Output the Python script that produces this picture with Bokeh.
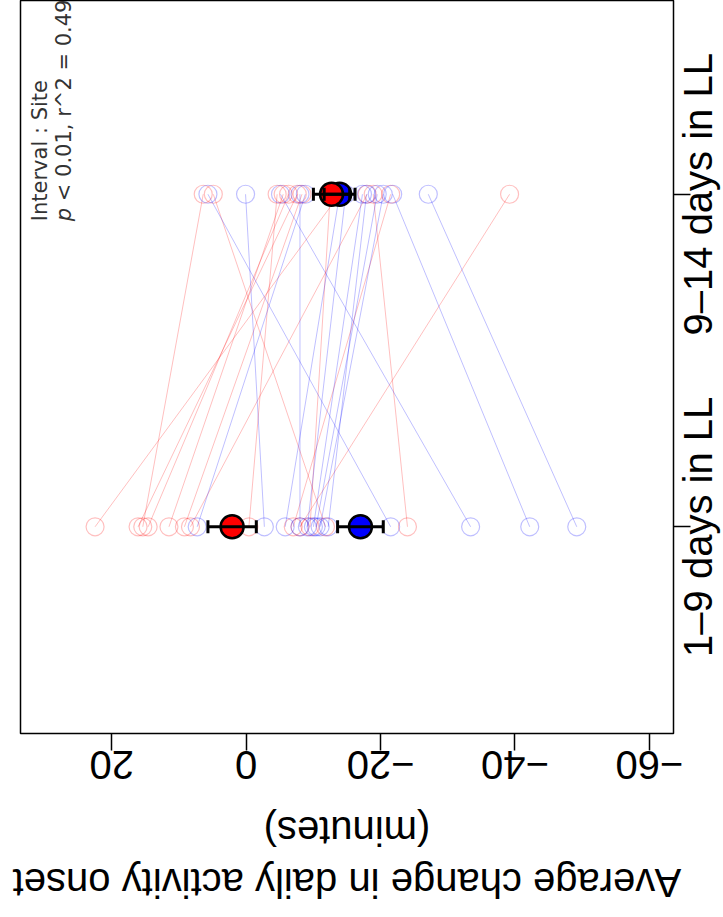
from bokeh.plotting import figure
from bokeh.models import Range1d, FixedTicker, ColumnDataSource, Whisker, TeeHead, Label, InlineStyleSheet
from bokeh.embed import file_html
from bokeh.resources import INLINE

# ---------------- data ----------------
categories = ["1–9 days in LL", "9–14 days in LL"]
cat_pos = [1, 2]

red_t1 = [22.5, 16.1, 15.4, 14.6, 11.5, 9.2, 8.3, -0.4, -7.0, -8.0, -9.5, -11.8, -24.0]
red_t2 = [-13.9, -7.6, 6.4, -6.3, -5.5, -8.3, -18.0, -4.6, -21.5, -39.2, -12.5, 4.9, -18.9]
blue_t1 = [7.3, -2.7, -5.8, -8.0, -9.1, -10.0, -10.4, -11.0, -12.2, -21.5, -33.4, -42.2, -49.2]
blue_t2 = [-8.8, 0.1, -13.9, -8.0, -14.8, -17.3, -19.5, -20.4, -17.9, 5.7, -5.1, -21.8, -27.1]

red_mean = [2.1, -12.7]
red_se = [3.6, 2.7]
blue_mean = [-17.0, -13.9]
blue_se = [3.4, 2.3]

value_ticks = [20, 0, -20, -40, -60]
value_tick_labels = ["20", "0", "−20", "−40", "−60"]

axis_title = "Average change in daily activity onset\n(minutes)"
note_line1 = "Interval : Site"
note_p = "p"
note_rest = "\u00a0< 0.01, r^2 = 0.49"

# The reference is an R chart turned a quarter turn counter-clockwise;
# the chart is built upright on a square canvas and the canvas is turned the same way.
SIDE = 909

p = figure(width=SIDE, height=SIDE, output_backend="svg", toolbar_location=None,
           title=None, x_range=Range1d(0.3784, 2.5826), y_range=Range1d(-63.6, 33.6),
           min_border_left=174, min_border_right=1, min_border_top=20,
           min_border_bottom=SIDE - 673)
p.stylesheets = [InlineStyleSheet(css=(
    ".bk-Canvas { transform: translateY(%dpx) rotate(-90deg); transform-origin: 0 0; }" % SIDE))]

p.xgrid.visible = False
p.ygrid.visible = False
p.outline_line_color = "black"
p.outline_line_width = 1.5
p.outline_line_alpha = 1.0
p.background_fill_color = "white"
p.border_fill_color = "white"

xa = p.xaxis[0]
ya = p.yaxis[0]
for ax in (xa, ya):
    ax.major_tick_out = 17
    ax.major_tick_in = 0
    ax.minor_tick_out = 0
    ax.minor_tick_in = 0
    ax.major_tick_line_width = 1.5
    ax.major_tick_line_color = "black"
    ax.axis_line_color = None
    ax.major_label_text_font = "Liberation Sans"
    ax.major_label_text_font_size = "40px"
    ax.major_label_text_color = "black"

# category axis (bottom of the upright chart)
xa.ticker = FixedTicker(ticks=cat_pos)
xa.major_label_overrides = {c: s for c, s in zip(cat_pos, categories)}
xa.major_label_standoff = -15

# value axis (left of the upright chart), labels parallel to the axis
ya.ticker = FixedTicker(ticks=value_ticks)
ya.major_label_overrides = {t: s for t, s in zip(value_ticks, value_tick_labels)}
ya.major_label_orientation = "vertical"
ya.major_label_standoff = 0
ya.axis_label = axis_title
ya.axis_label_text_font = "Liberation Sans"
ya.axis_label_text_font_size = "40px"
ya.axis_label_text_font_style = "normal"
ya.axis_label_text_color = "black"
ya.axis_label_standoff = 27

# individual animals: lines and open points
def individuals(t1, t2, color):
    ys = [[a, b] for a, b in zip(t1, t2)]
    xs = [list(cat_pos) for _ in t1]
    p.multi_line(xs=xs, ys=ys, line_color=color, line_alpha=0.25, line_width=1)
    p.scatter(x=[cat_pos[0]] * len(t1) + [cat_pos[1]] * len(t2), y=list(t1) + list(t2),
              size=18, fill_color=None, line_color=color, line_alpha=0.25, line_width=1.2)

individuals(red_t1, red_t2, "red")
individuals(blue_t1, blue_t2, "blue")

# error bars
for mean, se in ((blue_mean, blue_se), (red_mean, red_se)):
    src = ColumnDataSource(dict(base=cat_pos,
                                lower=[m - s for m, s in zip(mean, se)],
                                upper=[m + s for m, s in zip(mean, se)]))
    w = Whisker(base="base", lower="lower", upper="upper", dimension="height", source=src,
                line_width=3, line_color="black",
                upper_head=TeeHead(size=13, line_width=3, line_color="black"),
                lower_head=TeeHead(size=13, line_width=3, line_color="black"))
    w.level = "overlay"
    p.add_layout(w)

p.scatter(x=cat_pos, y=blue_mean, size=23, fill_color="blue", line_color="black", line_width=2.5, level="overlay")
p.scatter(x=cat_pos, y=red_mean, size=23, fill_color="red", line_color="black", line_width=2.5, level="overlay")

# model annotation (top right of the upright chart)
p.add_layout(Label(x=1.919, y=30.7, text=note_line1, text_align="left",
                   text_baseline="alphabetic", text_font="DejaVu Sans",
                   text_font_size="21px", text_color="#333333"))
p.add_layout(Label(x=1.919, y=27.1, text=note_p, text_align="left",
                   text_baseline="alphabetic", text_font="DejaVu Sans", text_font_style="italic",
                   text_font_size="21px", text_color="#333333"))
p.add_layout(Label(x=1.919, y=27.1, x_offset=13.3, text=note_rest, text_align="left",
                   text_baseline="alphabetic", text_font="DejaVu Sans",
                   text_font_size="21px", text_color="#333333"))

open("out.html", "w").write(file_html(p, INLINE))
